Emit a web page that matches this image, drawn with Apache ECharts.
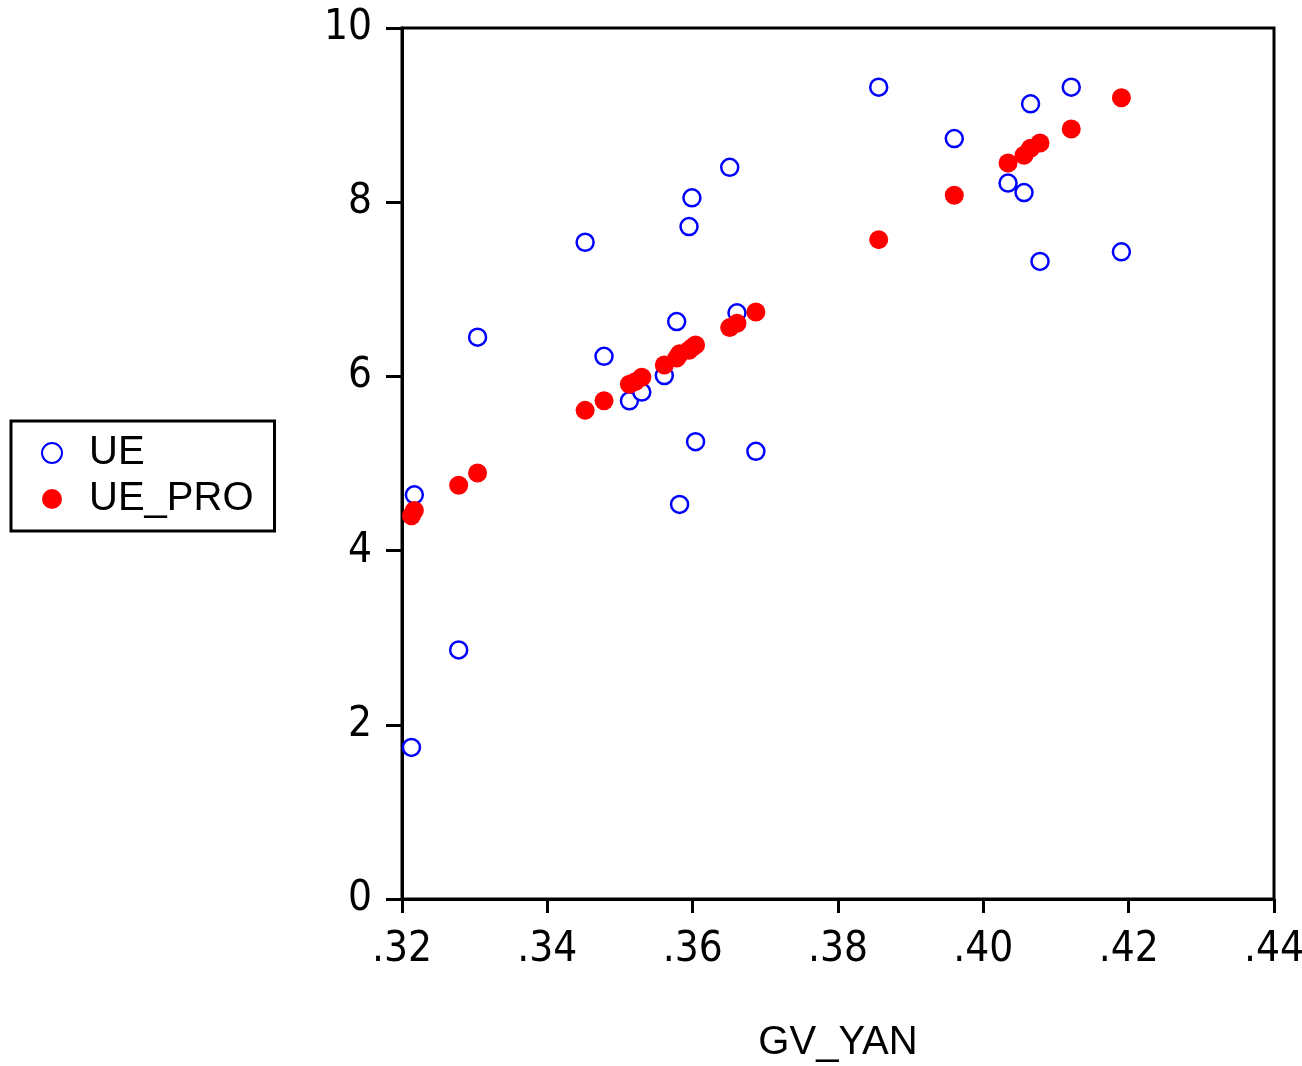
<!DOCTYPE html>
<html>
	<head>
		<meta charset="UTF-8">
		<title>UE vs GV_YAN</title>
		<script src="https://cdn.jsdelivr.net/npm/echarts@6/dist/echarts.min.js"></script>
	</head>
	<style type="text/css">
		body {
			margin: 0;
			padding: 0;
			background: #fff;
		}

		#chart {
			width: 1302px;
			height: 1066px;
		}
	</style>
	<body>
		<div id="chart"></div>
		<script>
			// GV_YAN values
			var gvYan = [0.3213, 0.3217, 0.3278, 0.3304, 0.3452, 0.3478, 0.3513, 0.3521, 0.3530, 0.3561, 0.3578, 0.3582,
				0.3595, 0.3599, 0.3604, 0.3651, 0.3661, 0.3687, 0.3856, 0.3960, 0.4034, 0.4056, 0.4065, 0.4078, 0.4121, 0.4190];
			// observed UE
			var ue = [1.74, 4.64, 2.86, 6.45, 7.54, 6.23, 5.72, 5.90, 5.82, 6.01, 6.63, 4.53,
				7.72, 8.05, 5.25, 8.40, 6.73, 5.14, 9.32, 8.73, 8.22, 8.11, 9.13, 7.32, 9.32, 7.43];
			// predicted UE_PRO
			var uePro = [4.40, 4.46, 4.75, 4.89, 5.61, 5.72, 5.91, 5.94, 5.99, 6.13, 6.21, 6.26,
				6.30, 6.33, 6.36, 6.56, 6.61, 6.74, 7.57, 8.08, 8.45, 8.54, 8.62, 8.68, 8.84, 9.20];

			var tickFont = "'DejaVu Sans Condensed', 'Liberation Sans Narrow', sans-serif";
			var textFont = "'Liberation Sans', Arial, sans-serif";

			function pairs(xs, ys) {
				var out = [];
				for (var i = 0; i < xs.length; i++) {
					out.push([xs[i], ys[i]]);
				}
				return out;
			}

			var chart = echarts.init(document.getElementById('chart'));
			chart.setOption({
				animation: false,
				backgroundColor: '#fff',
				grid: {
					left: 402,
					top: 28,
					right: 28,
					bottom: 167,
					outerBoundsMode: 'none',
					containLabel: false,
					show: true,
					borderColor: '#000',
					borderWidth: 3
				},
				legend: {
					orient: 'vertical',
					left: 11,
					top: 421,
					padding: [12, 21, 12, 30],
					itemGap: 6,
					itemWidth: 20,
					itemHeight: 20,
					borderColor: '#000',
					borderWidth: 3,
					textStyle: { fontFamily: textFont, fontSize: 40, color: '#000', padding: [0, 0, 0, 22] },
					data: ['UE', 'UE_PRO']
				},
				xAxis: {
					type: 'value',
					min: 0.32,
					max: 0.44,
					interval: 0.02,
					name: 'GV_YAN',
					nameLocation: 'middle',
					nameGap: 124,
					nameTextStyle: { fontFamily: textFont, fontSize: 40, color: '#000' },
					axisLine: { lineStyle: { color: '#000', width: 3 } },
					axisTick: { length: 14, lineStyle: { color: '#000', width: 3 } },
					axisLabel: {
						margin: 30,
						fontFamily: tickFont,
						fontSize: 42,
						color: '#000',
						formatter: function(v) { return v.toFixed(2).replace('0.', '.'); }
					},
					splitLine: { show: false }
				},
				yAxis: {
					type: 'value',
					min: 0,
					max: 10,
					interval: 2,
					axisLine: { show: true, lineStyle: { color: '#000', width: 3 } },
					axisTick: { show: true, length: 16, lineStyle: { color: '#000', width: 3 } },
					axisLabel: {
						margin: 30,
						fontFamily: tickFont,
						fontSize: 42,
						color: '#000'
					},
					splitLine: { show: false }
				},
				series: [{
					name: 'UE',
					type: 'scatter',
					symbol: 'circle',
					symbolSize: 17,
					itemStyle: { color: '#fff', borderColor: '#0000ff', borderWidth: 2.5, opacity: 1 },
					data: pairs(gvYan, ue)
				}, {
					name: 'UE_PRO',
					type: 'scatter',
					symbol: 'circle',
					symbolSize: 19,
					itemStyle: { color: '#ff0000', opacity: 1 },
					data: pairs(gvYan, uePro)
				}]
			});
		</script>
	</body>
</html>
